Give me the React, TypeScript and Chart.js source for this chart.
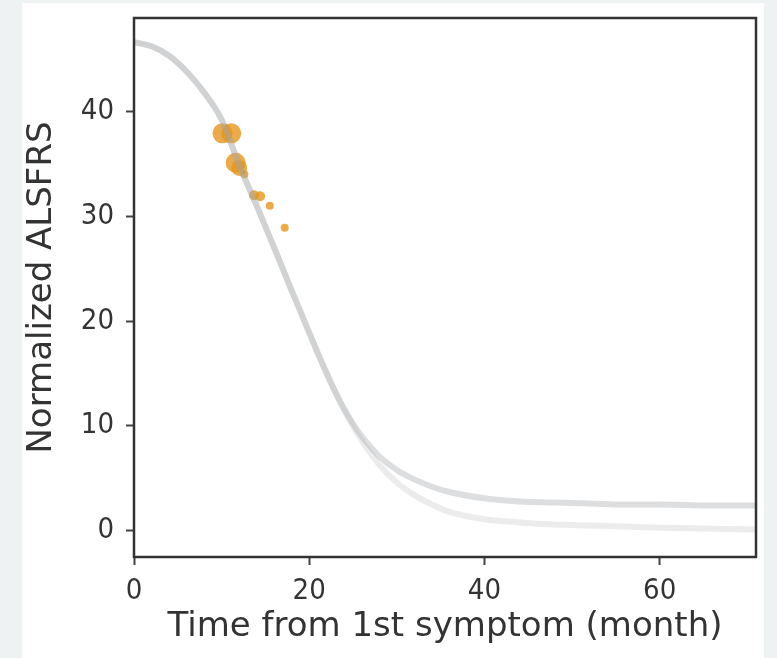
import React, { useEffect, useRef } from "react";
import { Chart, registerables } from "chart.js";

Chart.register(...registerables);

// Fitted curve samples (months, normalized ALSFRS)
const curveTimes = [0, 2, 4, 6, 8, 10, 12, 14, 16, 18, 20, 21, 22, 23, 24, 25, 26, 27, 28, 30, 32, 34, 36, 40, 44, 48, 52, 56, 60, 66, 72];
const curveUpper = [46.6, 46.2, 45.3, 43.8, 41.8, 39.2, 34.9, 31.0, 27.0, 22.9, 18.9, 16.9, 15.0, 13.2, 11.6, 10.2, 9.0, 8.0, 7.1, 5.8, 4.9, 4.2, 3.7, 3.1, 2.8, 2.7, 2.6, 2.5, 2.5, 2.4, 2.4];
const curveLower = [46.6, 46.2, 45.3, 43.8, 41.8, 39.2, 34.9, 31.0, 27.0, 22.9, 18.9, 16.9, 15.0, 13.2, 11.5, 10.0, 8.6, 7.4, 6.3, 4.6, 3.4, 2.5, 1.8, 1.1, 0.8, 0.6, 0.5, 0.4, 0.3, 0.2, 0.1];

// Observed visits
const obsTimes = [10.1, 11.1, 11.6, 12.0, 12.6, 13.7, 14.4, 15.5, 17.2];
const obsScores = [37.9, 37.9, 35.1, 34.6, 34.0, 32.0, 31.9, 31.0, 28.9];
const obsSizes = [10, 10, 10, 8, 4, 5, 5, 4, 4];

const xTicks = [0, 20, 40, 60];
const yTicks = [0, 10, 20, 30, 40];

const FONT = "'DejaVu Sans', sans-serif";
const TICK_FONT = "'DejaVu Sans Condensed', 'DejaVu Sans', sans-serif";

const framePlugin = {
  id: "frame",
  afterDatasetsDraw(chart: any) {
    const { ctx, chartArea } = chart;
    ctx.save();
    ctx.strokeStyle = "#333";
    ctx.lineWidth = 2.5;
    ctx.strokeRect(chartArea.left, chartArea.top, chartArea.right - chartArea.left, chartArea.bottom - chartArea.top);
    ctx.restore();
  },
};

export default function App() {
  const ref = useRef<HTMLCanvasElement | null>(null);
  useEffect(() => {
    if (!ref.current) return;
    const chart = new Chart(ref.current, {
      type: "line",
      data: {
        datasets: [
          {
            label: "upper",
            data: curveTimes.map((t, i) => ({ x: t, y: curveUpper[i] })),
            borderColor: "rgba(160,163,170,0.36)",
            borderWidth: 6,
            pointRadius: 0,
            cubicInterpolationMode: "monotone",
            fill: false,
          },
          {
            label: "lower",
            data: curveTimes.map((t, i) => ({ x: t, y: curveLower[i] })),
            borderColor: "rgba(170,170,170,0.22)",
            borderWidth: 6,
            pointRadius: 0,
            cubicInterpolationMode: "monotone",
            fill: false,
          },
          {
            type: "scatter",
            label: "obs",
            data: obsTimes.map((t, i) => ({ x: t, y: obsScores[i] })),
            backgroundColor: "rgba(228,150,30,0.8)",
            borderWidth: 0,
            pointRadius: obsSizes,
            showLine: false,
          } as any,
        ],
      },
      options: {
        animation: false,
        responsive: false,
        maintainAspectRatio: false,
        layout: { padding: { left: 0, top: 18, right: 21, bottom: 0 } },
        plugins: { legend: { display: false }, tooltip: { enabled: false } },
        scales: {
          x: {
            type: "linear",
            min: 0,
            max: 71,
            afterBuildTicks: (s: any) => {
              s.ticks = xTicks.map((v) => ({ value: v }));
            },
            afterFit: (s: any) => {
              s.height = 101;
              s.paddingLeft = 0;
              s.paddingRight = 0;
            },
            grid: { drawOnChartArea: false, tickLength: 8, tickColor: "#444", tickWidth: 2 },
            border: { display: false },
            ticks: { color: "#333", font: { family: TICK_FONT, size: 29 }, padding: 9, maxRotation: 0 },
            title: {
              display: true,
              text: "Time from 1st symptom (month)",
              color: "#333",
              font: { family: FONT, size: 34 },
              padding: { top: 0, bottom: 10 },
            },
          },
          y: {
            type: "linear",
            min: -2.5,
            max: 48.9,
            afterBuildTicks: (s: any) => {
              s.ticks = yTicks.map((v) => ({ value: v }));
            },
            afterFit: (s: any) => {
              s.width = 134;
              s.paddingTop = 0;
              s.paddingBottom = 0;
            },
            grid: { drawOnChartArea: false, tickLength: 8, tickColor: "#444", tickWidth: 2 },
            border: { display: false },
            ticks: { color: "#333", font: { family: TICK_FONT, size: 29 }, padding: 12 },
            title: {
              display: true,
              text: "Normalized ALSFRS",
              color: "#333",
              font: { family: FONT, size: 34 },
              padding: { top: 22, bottom: 0 },
            },
          },
        },
      },
      plugins: [framePlugin],
    });
    return () => chart.destroy();
  }, []);

  return (
    <div style={{ position: "fixed", left: 0, top: 0, width: 777, height: 658, background: "#eef2f2" }}>
      <div style={{ position: "absolute", left: 22, top: 3, width: 742, height: 655, background: "#ffffff" }} />
      <canvas ref={ref} width={777} height={658} style={{ position: "absolute", left: 0, top: 0, width: 777, height: 658 }} />
    </div>
  );
}
